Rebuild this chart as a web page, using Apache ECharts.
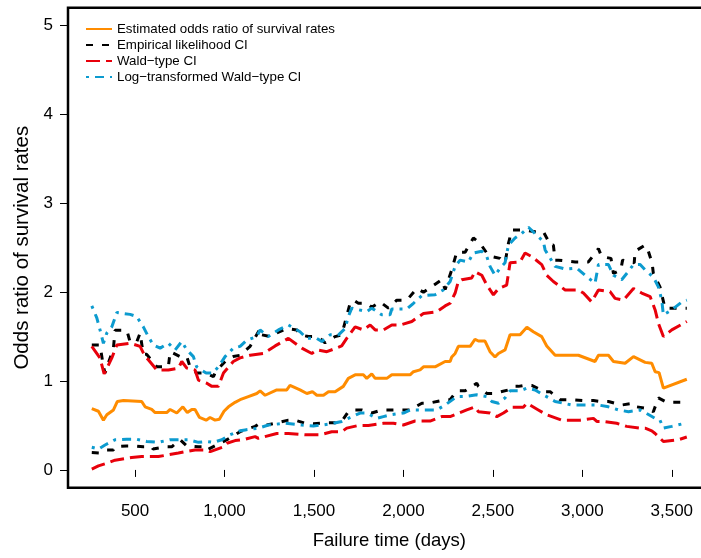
<!DOCTYPE html>
<html>
<head>
<meta charset="utf-8">
<script src="https://cdn.jsdelivr.net/npm/echarts@6/dist/echarts.min.js"></script>
<style>
  html, body { margin: 0; padding: 0; background: #fff; }
</style>
</head>
<body>
<div id="oddsChart" style="width:701px;height:558px;"></div>
<script>
// values: [failure time (days), odds ratio]
var estimated = [[258,0.69],[295,0.66],[323,0.56],[342,0.62],[379,0.675],[401,0.77],[435,0.78],[537,0.77],[556,0.71],[593,0.68],[612,0.645],[677,0.645],[696,0.68],[733,0.64],[767,0.71],[792,0.645],[817,0.68],[835,0.68],[860,0.59],[897,0.56],[919,0.59],[947,0.56],[971,0.57],[997,0.66],[1022,0.71],[1059,0.76],[1087,0.79],[1133,0.825],[1180,0.86],[1199,0.89],[1227,0.84],[1292,0.90],[1348,0.90],[1366,0.95],[1422,0.90],[1460,0.86],[1491,0.88],[1516,0.84],[1553,0.84],[1581,0.88],[1618,0.88],[1664,0.94],[1692,1.03],[1730,1.07],[1776,1.07],[1795,1.03],[1823,1.08],[1842,1.03],[1907,1.03],[1935,1.07],[2037,1.07],[2056,1.105],[2093,1.125],[2112,1.16],[2177,1.16],[2233,1.22],[2261,1.22],[2270,1.27],[2289,1.31],[2307,1.39],[2373,1.39],[2400,1.47],[2419,1.45],[2456,1.45],[2484,1.33],[2512,1.27],[2531,1.31],[2568,1.35],[2596,1.52],[2652,1.52],[2690,1.605],[2726,1.555],[2773,1.50],[2801,1.395],[2848,1.29],[2978,1.29],[3071,1.22],[3090,1.29],[3146,1.29],[3174,1.22],[3239,1.20],[3286,1.275],[3351,1.21],[3388,1.20],[3407,1.105],[3429,1.095],[3453,0.92],[3584,1.02]];

var elUpper = [[258,1.405],[304,1.405],[323,1.16],[332,1.09],[379,1.37],[388,1.57],[454,1.57],[472,1.44],[509,1.44],[528,1.54],[546,1.30],[565,1.30],[621,1.16],[686,1.16],[696,1.33],[752,1.275],[789,1.275],[807,1.16],[844,1.09],[891,1.09],[938,1.05],[950,1.105],[1013,1.24],[1049,1.275],[1087,1.29],[1096,1.31],[1143,1.39],[1199,1.59],[1208,1.52],[1255,1.50],[1292,1.54],[1348,1.59],[1404,1.575],[1422,1.52],[1469,1.50],[1497,1.50],[1534,1.48],[1562,1.43],[1618,1.50],[1655,1.52],[1702,1.875],[1720,1.91],[1748,1.875],[1795,1.875],[1823,1.83],[1870,1.89],[1916,1.82],[1963,1.91],[2019,1.91],[2075,2.04],[2112,2.0],[2214,2.14],[2233,2.03],[2270,2.25],[2298,2.45],[2345,2.45],[2391,2.61],[2428,2.55],[2466,2.44],[2494,2.40],[2540,2.38],[2568,2.33],[2587,2.55],[2606,2.70],[2670,2.70],[2736,2.68],[2782,2.68],[2801,2.61],[2820,2.53],[2838,2.53],[2848,2.36],[2866,2.36],[2960,2.34],[3034,2.34],[3090,2.49],[3108,2.40],[3160,2.38],[3174,2.21],[3215,2.25],[3225,2.36],[3290,2.33],[3295,2.46],[3351,2.53],[3369,2.46],[3390,2.33],[3397,2.21],[3434,2.06],[3462,1.82],[3584,1.82]];
var elLower = [[258,0.195],[304,0.19],[342,0.225],[379,0.225],[388,0.26],[453,0.27],[491,0.27],[546,0.26],[593,0.26],[600,0.235],[668,0.26],[705,0.26],[752,0.34],[789,0.27],[854,0.26],[891,0.26],[901,0.225],[975,0.30],[1013,0.34],[1059,0.395],[1087,0.43],[1115,0.455],[1171,0.49],[1199,0.525],[1236,0.505],[1283,0.525],[1357,0.56],[1394,0.56],[1450,0.525],[1497,0.52],[1572,0.53],[1618,0.53],[1655,0.545],[1692,0.655],[1730,0.675],[1767,0.675],[1823,0.64],[1879,0.675],[2037,0.675],[2103,0.75],[2140,0.75],[2233,0.79],[2261,0.79],[2298,0.89],[2345,0.89],[2410,0.975],[2419,0.94],[2466,0.86],[2503,0.86],[2587,0.90],[2615,0.94],[2643,0.94],[2671,0.95],[2717,0.95],[2792,0.88],[2820,0.88],[2876,0.79],[2932,0.79],[3006,0.78],[3062,0.78],[3099,0.77],[3146,0.77],[3220,0.73],[3286,0.75],[3304,0.71],[3369,0.69],[3397,0.655],[3425,0.81],[3472,0.76],[3584,0.76]];

var waldUpper = [[258,1.39],[304,1.26],[327,1.08],[370,1.26],[398,1.405],[472,1.425],[528,1.39],[556,1.275],[574,1.24],[621,1.125],[686,1.125],[742,1.145],[761,1.22],[789,1.145],[835,1.125],[854,1.01],[901,0.975],[929,0.94],[966,0.94],[994,1.09],[1049,1.22],[1087,1.26],[1143,1.29],[1217,1.31],[1283,1.395],[1357,1.48],[1432,1.37],[1488,1.31],[1516,1.35],[1572,1.33],[1655,1.395],[1683,1.48],[1730,1.61],[1776,1.575],[1814,1.63],[1842,1.575],[1888,1.575],[1935,1.63],[1981,1.63],[2047,1.67],[2075,1.71],[2112,1.76],[2186,1.78],[2233,1.845],[2261,1.875],[2289,1.99],[2307,2.12],[2326,2.14],[2382,2.16],[2400,2.23],[2438,2.19],[2466,2.08],[2503,1.97],[2531,2.04],[2577,2.08],[2596,2.33],[2652,2.34],[2680,2.44],[2717,2.40],[2773,2.31],[2801,2.19],[2838,2.12],[2904,2.025],[2978,2.025],[3006,1.99],[3052,1.89],[3090,2.025],[3155,2.005],[3183,1.93],[3230,1.91],[3286,2.04],[3332,1.99],[3379,1.95],[3407,1.80],[3425,1.65],[3453,1.50],[3500,1.575],[3584,1.67]];
var waldLower = [[258,0.01],[295,0.045],[342,0.075],[388,0.11],[481,0.14],[537,0.15],[630,0.15],[686,0.17],[742,0.19],[779,0.205],[835,0.225],[901,0.225],[920,0.205],[994,0.26],[1013,0.30],[1059,0.33],[1105,0.34],[1171,0.375],[1189,0.355],[1292,0.41],[1357,0.41],[1450,0.395],[1534,0.395],[1599,0.43],[1655,0.43],[1683,0.47],[1748,0.50],[1804,0.50],[1888,0.525],[1944,0.525],[2000,0.505],[2065,0.55],[2149,0.55],[2214,0.60],[2261,0.60],[2354,0.675],[2400,0.71],[2419,0.655],[2484,0.64],[2522,0.60],[2559,0.64],[2606,0.705],[2670,0.705],[2690,0.75],[2754,0.675],[2801,0.62],[2885,0.56],[2988,0.56],[3062,0.58],[3081,0.545],[3118,0.545],[3192,0.525],[3248,0.49],[3323,0.47],[3351,0.47],[3388,0.44],[3407,0.41],[3453,0.32],[3537,0.34],[3584,0.37]];

var logUpper = [[258,1.845],[286,1.71],[304,1.575],[323,1.425],[342,1.54],[370,1.61],[398,1.77],[472,1.75],[509,1.725],[546,1.61],[574,1.50],[602,1.405],[640,1.37],[686,1.425],[724,1.35],[761,1.445],[789,1.35],[826,1.275],[844,1.16],[897,1.09],[934,1.09],[966,1.16],[1003,1.275],[1049,1.37],[1087,1.39],[1124,1.46],[1180,1.50],[1199,1.575],[1245,1.50],[1301,1.575],[1357,1.63],[1422,1.555],[1460,1.48],[1516,1.48],[1544,1.445],[1590,1.52],[1637,1.52],[1674,1.59],[1692,1.725],[1711,1.82],[1795,1.78],[1823,1.82],[1879,1.745],[1925,1.745],[1935,1.81],[2019,1.81],[2056,1.875],[2103,1.96],[2177,1.97],[2223,2.025],[2261,2.12],[2289,2.29],[2317,2.36],[2363,2.34],[2391,2.44],[2438,2.46],[2466,2.40],[2484,2.29],[2512,2.19],[2540,2.27],[2568,2.33],[2587,2.53],[2624,2.61],[2661,2.66],[2699,2.73],[2745,2.64],[2782,2.57],[2792,2.475],[2848,2.29],[2904,2.26],[2969,2.27],[3015,2.19],[3071,2.10],[3090,2.31],[3146,2.31],[3174,2.19],[3220,2.14],[3248,2.21],[3286,2.31],[3323,2.31],[3351,2.25],[3397,2.17],[3425,2.06],[3444,1.91],[3453,1.745],[3500,1.80],[3556,1.89],[3584,1.91]];
var logLower = [[258,0.255],[295,0.235],[332,0.28],[388,0.34],[453,0.345],[509,0.345],[565,0.32],[630,0.31],[696,0.34],[798,0.34],[854,0.31],[901,0.32],[938,0.31],[985,0.34],[1031,0.395],[1087,0.44],[1115,0.45],[1189,0.47],[1245,0.505],[1338,0.525],[1432,0.505],[1497,0.495],[1544,0.505],[1599,0.52],[1655,0.545],[1692,0.58],[1758,0.64],[1795,0.64],[1851,0.58],[1888,0.60],[1925,0.62],[2000,0.64],[2037,0.675],[2121,0.675],[2186,0.675],[2233,0.73],[2298,0.825],[2345,0.825],[2410,0.845],[2466,0.825],[2494,0.77],[2531,0.75],[2568,0.81],[2596,0.89],[2652,0.89],[2690,0.92],[2736,0.90],[2782,0.845],[2800,0.825],[2848,0.77],[2941,0.73],[3034,0.73],[3090,0.73],[3146,0.71],[3202,0.675],[3258,0.655],[3323,0.675],[3351,0.645],[3407,0.58],[3434,0.56],[3453,0.47],[3500,0.49],[3574,0.525]];

var xTicks = [500, 1000, 1500, 2000, 2500, 3000, 3500];
var yTicks = [0, 1, 2, 3, 4, 5];

var legendNames = ['Estimated odds ratio of survival rates', 'Empirical likelihood CI', 'Wald\u2212type CI', 'Log\u2212transformed Wald\u2212type CI'];

var font = 'Liberation Sans, Arial, Helvetica, sans-serif';

function lineSeries(name, data, color, dash, z) {
  return {
    name: name,
    type: 'line',
    data: data,
    symbol: 'none',
    z: z,
    itemStyle: { color: color },
    lineStyle: { color: color, width: 3, type: dash },
    emphasis: { disabled: true }
  };
}

var chart = echarts.init(document.getElementById('oddsChart'), null, { renderer: 'canvas' });

chart.setOption({
  animation: false,
  backgroundColor: '#fff',
  textStyle: { fontFamily: font, color: '#000' },
  grid: {
    left: 68, top: 7.7, width: 642.6, height: 480,
    outerBoundsMode: 'none',
    containLabel: false,
    show: true, borderColor: '#000', borderWidth: 2.5, backgroundColor: 'transparent'
  },
  legend: {
    data: legendNames,
    orient: 'vertical',
    left: 80, top: 17,
    itemWidth: 26, itemHeight: 14, itemGap: 2,
    itemStyle: { opacity: 0 },
    textStyle: { fontFamily: font, fontSize: 13.3, color: '#000', lineHeight: 14 }
  },
  xAxis: {
    type: 'value',
    min: 125, max: 3717,
    name: 'Failure time (days)',
    nameLocation: 'middle',
    nameGap: 44,
    nameTextStyle: { fontFamily: font, fontSize: 18.5, color: '#000' },
    axisLine: { show: false },
    splitLine: { show: false },
    axisTick: { show: true, length: 7, customValues: xTicks, lineStyle: { color: '#000', width: 1 } },
    axisLabel: {
      customValues: xTicks, margin: 15, fontSize: 17, color: '#000', fontFamily: font,
      formatter: function (v) { return String(v).replace(/\B(?=(\d{3})+(?!\d))/g, ','); }
    }
  },
  yAxis: {
    type: 'value',
    min: -0.2, max: 5.2,
    name: 'Odds ratio of survival rates',
    nameLocation: 'middle',
    nameGap: 31,
    nameTextStyle: { fontFamily: font, fontSize: 20.5, color: '#000' },
    axisLine: { show: false },
    splitLine: { show: false },
    axisTick: { show: true, length: 8, customValues: yTicks, lineStyle: { color: '#000', width: 1 } },
    axisLabel: { customValues: yTicks, margin: 15, fontSize: 17, color: '#000', fontFamily: font }
  },
  series: [
    lineSeries(legendNames[0], estimated, '#FF8C00', 'solid', 5),
    lineSeries(legendNames[1], elUpper, '#000000', [7, 9], 6),
    lineSeries(legendNames[1], elLower, '#000000', [7, 9], 6),
    lineSeries(legendNames[2], waldUpper, '#E8000B', [14, 6], 7),
    lineSeries(legendNames[2], waldLower, '#E8000B', [14, 6], 7),
    lineSeries(legendNames[3], logUpper, '#0C9BCF', [3, 6, 9, 6], 8),
    lineSeries(legendNames[3], logLower, '#0C9BCF', [3, 6, 9, 6], 8)
  ]
});
</script>
</body>
</html>
